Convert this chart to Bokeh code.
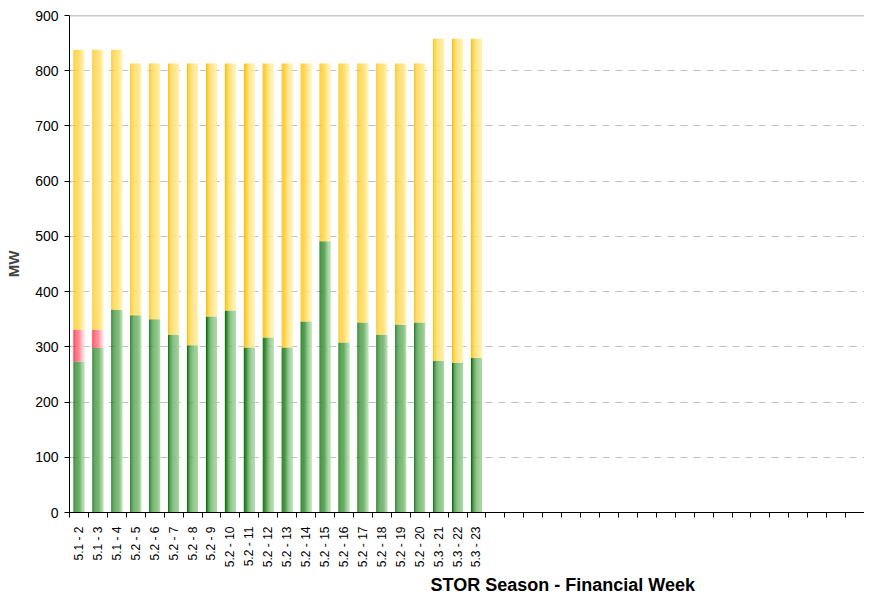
import numpy as np
from bokeh.plotting import figure
from bokeh.models import (ColumnDataSource, FixedTicker, Range1d, Span, Title)
from bokeh.transform import dodge
from bokeh.embed import file_html
from bokeh.resources import INLINE

# ---- data ----
weeks = ["5.1 - 2", "5.1 - 3", "5.1 - 4", "5.2 - 5", "5.2 - 6", "5.2 - 7", "5.2 - 8",
         "5.2 - 9", "5.2 - 10", "5.2 - 11", "5.2 - 12", "5.2 - 13", "5.2 - 14",
         "5.2 - 15", "5.2 - 16", "5.2 - 17", "5.2 - 18", "5.2 - 19", "5.2 - 20",
         "5.3 - 21", "5.3 - 22", "5.3 - 23"]
green = [273, 298, 367, 357, 350, 322, 303, 355, 366, 299, 317, 299, 346,
         491, 308, 344, 322, 340, 344, 275, 271, 280]
red = [58, 33, 0, 0, 0, 0, 0, 0, 0, 0, 0, 0, 0, 0, 0, 0, 0, 0, 0, 0, 0, 0]
total = [838, 838, 838, 813, 813, 813, 813, 813, 813, 813, 813, 813, 813,
         813, 813, 813, 813, 813, 813, 858, 858, 858]
n_slots = 42  # category slots on the axis (only first 22 filled)

n = len(weeks)
xc = np.arange(n) + 0.5
g = np.array(green, dtype=float)
r = np.array(red, dtype=float)
t = np.array(total, dtype=float)
src = ColumnDataSource(dict(x=xc, g0=np.zeros(n), g1=g, r1=g + r, t1=t))

p = figure(output_backend="svg", toolbar_location=None,
           frame_width=795, frame_height=497,
           x_range=Range1d(0, n_slots), y_range=Range1d(0, 900),
           min_border_left=69, min_border_top=15, min_border_right=0,
           min_border_bottom=0)
p.outline_line_color = None
p.background_fill_color = "white"

def lerp(c1, c2, f):
    a = [int(c1[i:i + 2], 16) for i in (1, 3, 5)]
    b = [int(c2[i:i + 2], 16) for i in (1, 3, 5)]
    return "#%02x%02x%02x" % tuple(int(round(a[j] + (b[j] - a[j]) * f)) for j in range(3))

bw = 0.58
ns = 10
sw = bw / ns
segs = [("g0", "g1", "#0c730c", "#a9d6a3"),
        ("g1", "r1", "#ff1a30", "#ffd4dc"),
        ("r1", "t1", "#ffc20e", "#fff1ab")]
for b, tp, c1, c2 in segs:
    for k in range(ns):
        f = (k / (ns - 1)) ** 0.7
        off = -bw / 2 + (k + 0.5) * sw
        p.vbar(x=dodge("x", off), bottom=b, top=tp, width=sw * 1.08, source=src,
               fill_color=lerp(c1, c2, f), line_color=None)

# axes
font = "Liberation Sans"
p.xaxis.ticker = FixedTicker(ticks=list(xc), minor_ticks=list(range(0, n_slots + 1)))
p.xaxis.major_label_overrides = {float(x): w for x, w in zip(xc, weeks)}
p.xaxis.major_label_orientation = np.pi / 2
p.xaxis.major_tick_line_color = None
p.xaxis.minor_tick_line_color = "black"
p.xaxis.minor_tick_out = 5
p.xaxis.minor_tick_in = 0
p.xaxis.axis_line_color = "black"
p.xaxis.major_label_text_font = font
p.xaxis.major_label_text_font_size = "12px"
p.xaxis.major_label_text_color = "black"
p.xaxis.major_label_standoff = 8

p.yaxis.ticker = FixedTicker(ticks=list(range(0, 901, 100)))
p.yaxis.minor_tick_line_color = None
p.yaxis.major_tick_out = 5
p.yaxis.major_tick_in = 0
p.yaxis.axis_line_color = "black"
p.yaxis.major_label_text_font = font
p.yaxis.major_label_text_font_size = "14px"
p.yaxis.major_label_text_color = "black"
p.yaxis.major_label_standoff = 6
p.yaxis.axis_label = "MW"
p.yaxis.axis_label_text_font = font
p.yaxis.axis_label_text_font_style = "bold"
p.yaxis.axis_label_text_font_size = "15px"
p.yaxis.axis_label_standoff = 10

p.xgrid.grid_line_color = None
p.ygrid.grid_line_color = "#c0c0c0"
p.ygrid.grid_line_dash = "7 6"
p.ygrid.grid_line_width = 1

p.add_layout(Span(location=900, dimension="width", line_color="#909090", line_width=1.5))

p.add_layout(Title(text="STOR Season - Financial Week", text_font=font,
                   text_font_style="bold", text_font_size="18px",
                   align="left", offset=361, standoff=4, text_color="black"), "below")

open("out.html", "w").write(file_html(p, INLINE))
